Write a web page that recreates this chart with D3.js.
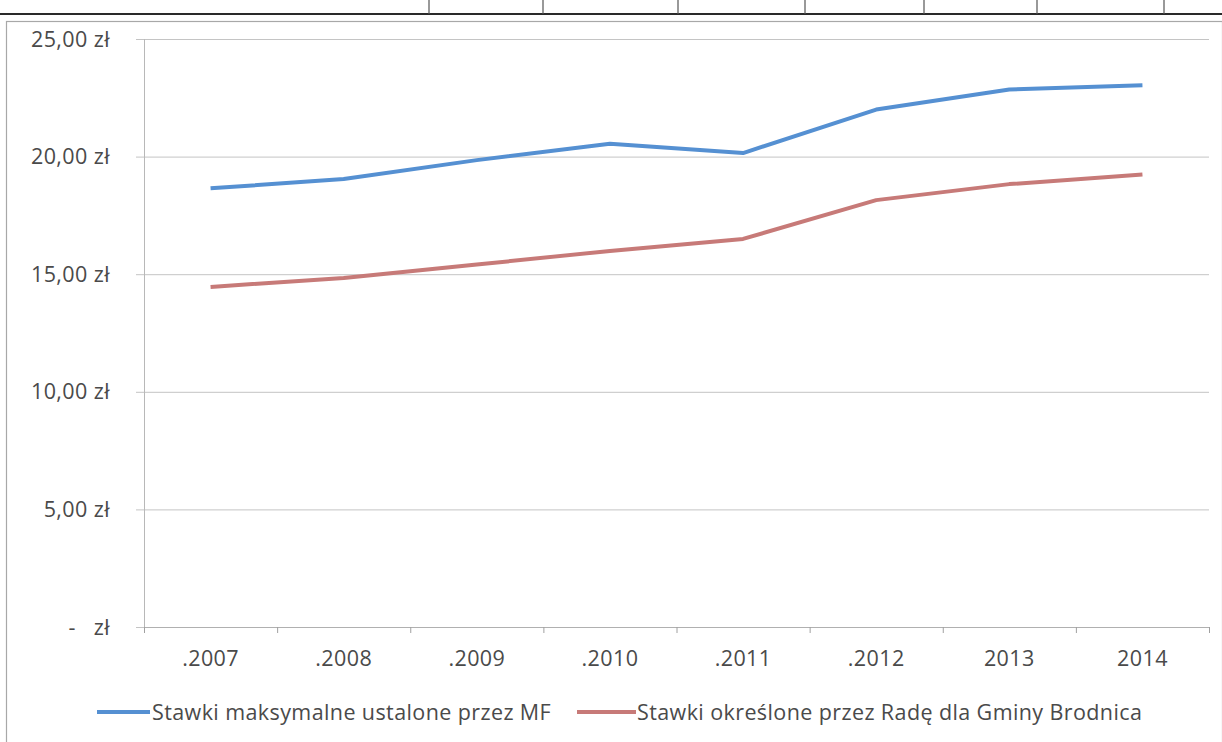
<!DOCTYPE html>
<html>
<head>
<meta charset="utf-8">
<script src="https://cdn.jsdelivr.net/npm/d3@7"></script>
<style>
  html, body { margin: 0; padding: 0; background: #ffffff; }
  svg text { font-family: "Open Sans", Lato, "DejaVu Sans", sans-serif; fill: #4a4a4a; letter-spacing: 0.4px; }
</style>
</head>
<body>
<svg id="chart" width="1222" height="742"></svg>
<script>
// ---- data ----
const categories = [".2007", ".2008", ".2009", ".2010", ".2011", ".2012", "2013", "2014"];
const seriesNames = ["Stawki maksymalne ustalone przez MF", "Stawki określone przez Radę dla Gminy Brodnica"];
const maxRates = [18.65, 19.05, 19.85, 20.55, 20.15, 22.0, 22.85, 23.03];
const councilRates = [14.46, 14.84, 15.41, 15.99, 16.5, 18.15, 18.83, 19.24];
const yTicks = [0, 5, 10, 15, 20, 25];
const tableDividers = [429, 543, 678, 805, 924, 1037, 1164];

const colors = ["#5590d2", "#c77a78"];
const FS = 21.5;

const svg = d3.select("#chart");
const W = 1222, H = 742;

// scanned table remnant at the top
svg.append("line").attr("x1", 0).attr("x2", W).attr("y1", 14).attr("y2", 14)
  .attr("stroke", "#2a2a2a").attr("stroke-width", 2);
svg.selectAll("line.tdiv").data(tableDividers).join("line").attr("class", "tdiv")
  .attr("x1", d => d).attr("x2", d => d).attr("y1", 0).attr("y2", 14)
  .attr("stroke", "#555").attr("stroke-width", 1.2);

// chart frame
svg.append("rect").attr("x", 6.5).attr("y", 21.5).attr("width", W - 6).attr("height", H)
  .attr("fill", "none").attr("stroke", "#a8a8a8").attr("stroke-width", 1.2);

const plot = { left: 144, right: 1209, top: 39, bottom: 627 };

const x = d3.scaleBand().domain(categories).range([plot.left, plot.right]).paddingInner(0).paddingOuter(0);
const y = d3.scaleLinear().domain([0, 25]).range([plot.bottom, plot.top]);

// gridlines
svg.append("g").selectAll("line").data(yTicks).join("line")
  .attr("x1", plot.left - 8).attr("x2", plot.right)
  .attr("y1", d => y(d) + 0.5).attr("y2", d => y(d) + 0.5)
  .attr("stroke", "#c4c4c4").attr("stroke-width", 1);

// y axis line
svg.append("line").attr("x1", plot.left + 0.5).attr("x2", plot.left + 0.5)
  .attr("y1", plot.top).attr("y2", plot.bottom + 6)
  .attr("stroke", "#b8b8b8").attr("stroke-width", 1);

// x axis
const xAxis = d3.axisBottom(x).tickSize(0).tickFormat(d => d).tickPadding(0);
const gx = svg.append("g").attr("transform", `translate(0,${plot.bottom})`).call(xAxis);
gx.select(".domain").attr("stroke", "#b0b0b0");
gx.selectAll("text").attr("font-size", FS).attr("font-family", null).attr("fill", null)
  .attr("dy", "1.45em").attr("y", 8);
// category boundary ticks
const bounds = categories.map(c => x(c)).concat([plot.right]);
svg.append("g").selectAll("line").data(bounds).join("line")
  .attr("x1", d => d + 0.5).attr("x2", d => d + 0.5)
  .attr("y1", plot.bottom).attr("y2", plot.bottom + 6)
  .attr("stroke", "#a0a0a0");

// y axis labels
const fmt = d => d === 0 ? "-   zł" : d3.format(".2f")(d).replace(".", ",") + " zł";
svg.append("g").selectAll("text").data(yTicks).join("text")
  .attr("x", 110).attr("y", d => y(d)).attr("dy", "0.35em")
  .attr("text-anchor", "end").attr("font-size", FS)
  .style("white-space", "pre")
  .text(fmt);

// lines
const line = d3.line()
  .x((d, i) => x(categories[i]) + x.bandwidth() / 2)
  .y(d => y(d));
[maxRates, councilRates].forEach((s, k) => {
  svg.append("path").datum(s).attr("d", line)
    .attr("fill", "none").attr("stroke", colors[k]).attr("stroke-width", 4)
    .attr("stroke-linejoin", "round").attr("stroke-linecap", "butt");
});

// legend
const legendItems = [
  { x0: 97, x1: 150, tx: 152 },
  { x0: 577, x1: 636, tx: 637 }
];
const lg = svg.append("g");
legendItems.forEach((it, k) => {
  lg.append("line").attr("x1", it.x0).attr("x2", it.x1).attr("y1", 712).attr("y2", 712)
    .attr("stroke", colors[k]).attr("stroke-width", 4);
  lg.append("text").attr("x", it.tx).attr("y", 712).attr("dy", "0.35em")
    .attr("font-size", FS).text(seriesNames[k]);
});
</script>
</body>
</html>
